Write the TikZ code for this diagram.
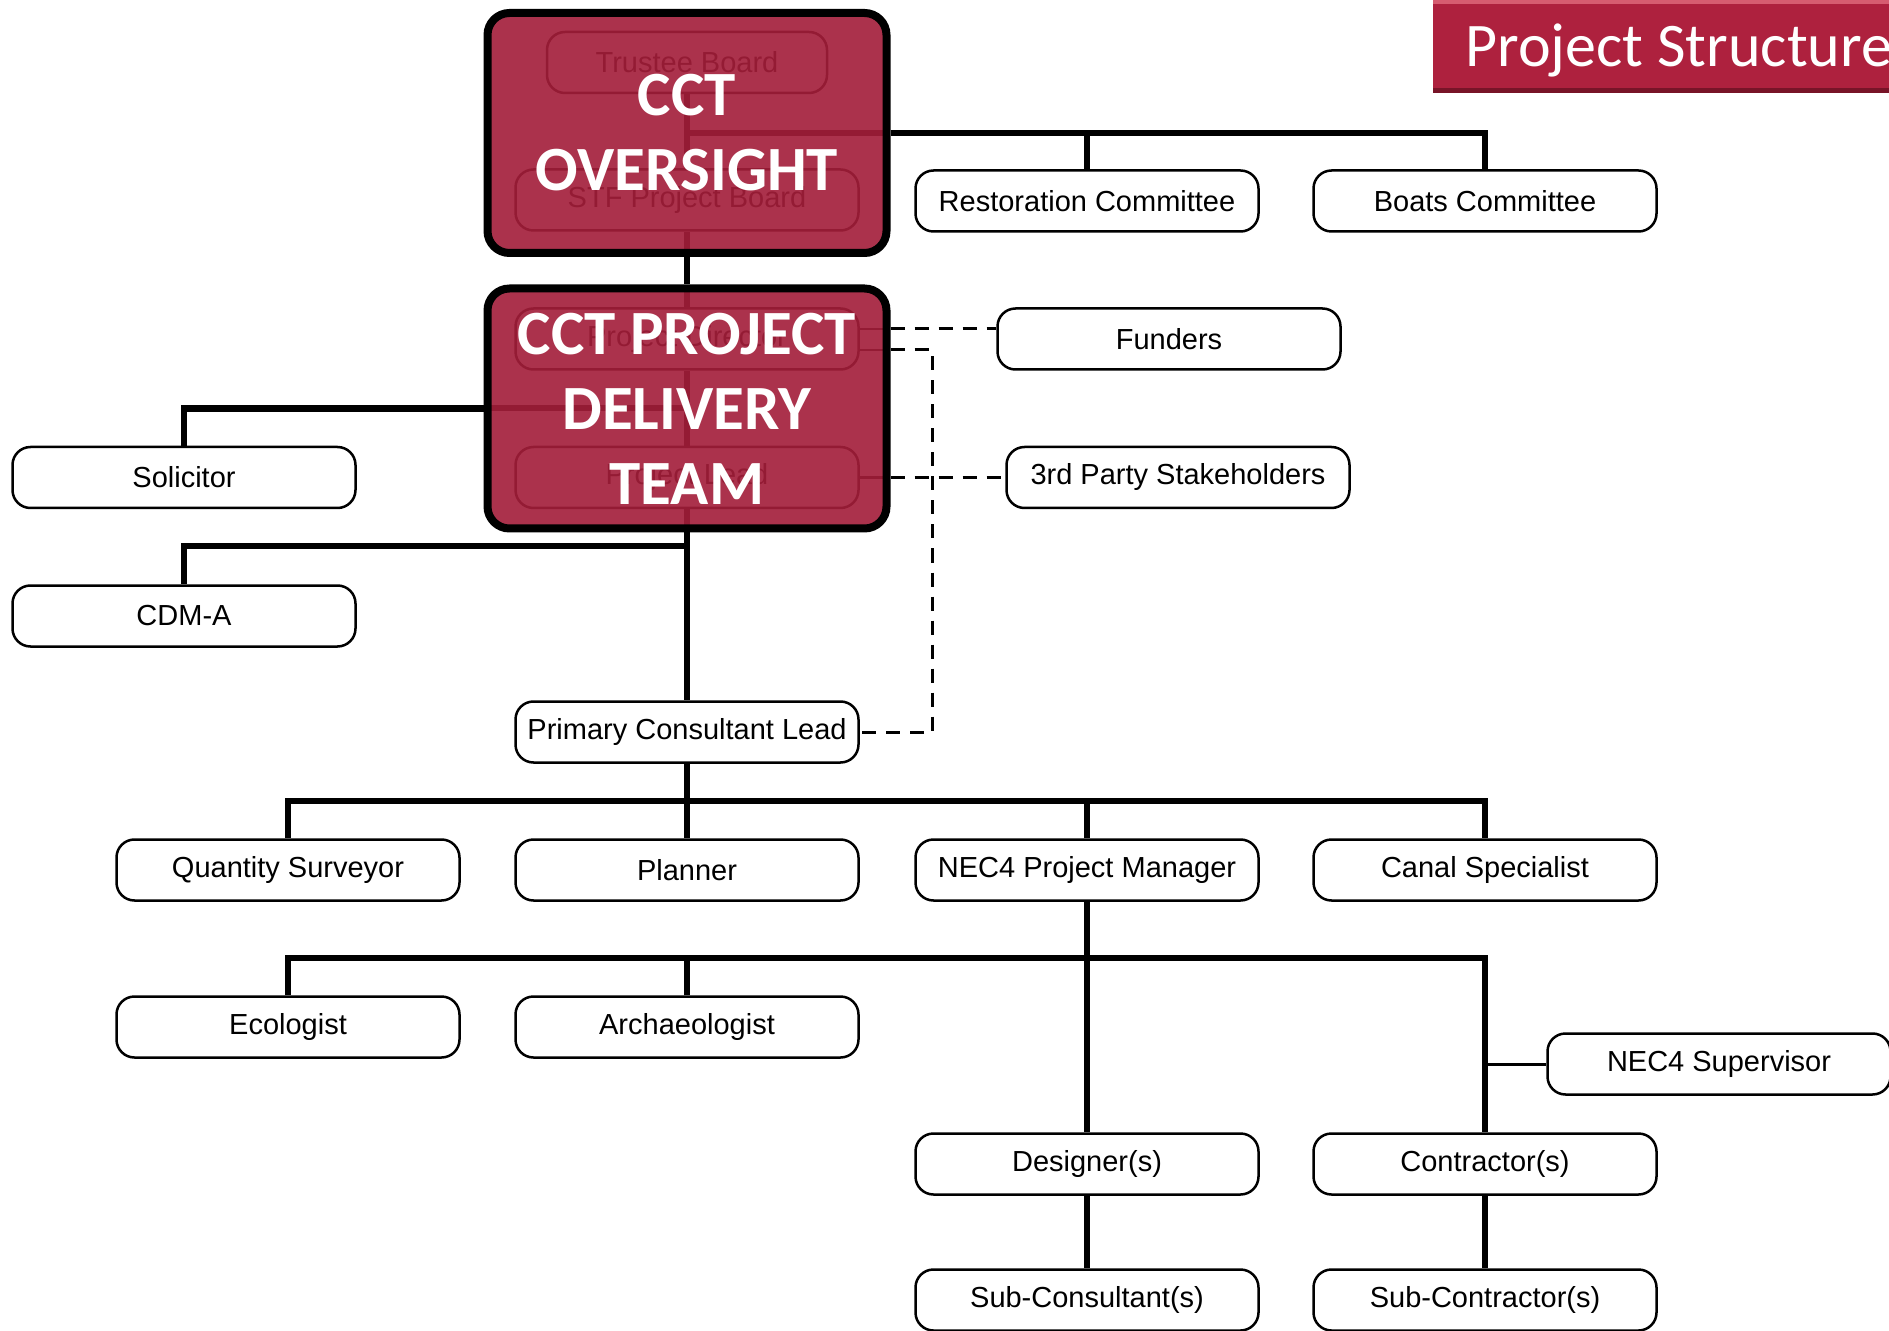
\documentclass[tikz,border=0pt]{standalone}
\usepackage{fontspec}
\setmainfont{Liberation Sans}
\newfontfamily\calibri{Carlito}
\usetikzlibrary{calc}
\definecolor{ovred}{RGB}{163,30,58}
\definecolor{titlered}{RGB}{174,33,62}
\definecolor{titlehi}{RGB}{214,92,112}
\definecolor{titlelo}{RGB}{120,20,40}
\begin{document}
\begin{tikzpicture}[x=0.5pt,y=-0.5pt,
  lbl/.style={draw, line width=1.25pt, rounded corners=9pt, fill=white, minimum width=171.5pt, minimum height=30.5pt, inner sep=0pt, font=\fontsize{14.5}{17}\selectfont},
  faded/.style={draw=black, line width=1.25pt, rounded corners=9pt, minimum width=171.5pt, minimum height=30.5pt, inner sep=0pt, font=\fontsize{14.5}{17}\selectfont, text=black},
  conn/.style={line width=3.25pt},
  dconn/.style={line width=1.5pt, dash pattern=on 7pt off 5pt},
  redbox/.style={draw=black, line width=4pt, rounded corners=11pt, fill=ovred, fill opacity=0.91, text opacity=1, text=white, align=center, minimum width=199.5pt, minimum height=120pt, inner sep=0pt, font=\calibri\bfseries\fontsize{31.5}{37.5}\selectfont}]
\useasboundingbox (0,0) rectangle (1889,1331);
\clip (0,0) rectangle (1889,1331);

% faded content beneath the overlays
\node[faded, minimum width=140pt] (tb) at (687,62.5) {Trustee Board};
\node[faded] (stf) at (687,200) {STF Project Board};
\node[faded] (pd) at (687,339) {Project Director};
\node[faded] (pl) at (687,477.5) {Project Lead};
\draw[conn] (tb.south) -- (stf.north);
\draw[conn] (stf.south) -- (stf.south |- 0,253);
\draw[conn] (687,133) -- (885,133);
\draw[conn] (pd.north |- 0,289) -- (pd.north);
\draw[conn] (pd.south) -- (pl.north);
\draw[conn] (pl.south) -- (pl.south |- 0,528);
\draw[conn] (489,408) -- (687,408);
\draw[line width=1.25pt] (pd.east |- 0,329) -- (885,329);
\draw[line width=1.25pt] (pd.east |- 0,350) -- (885,350);
\draw[line width=1.25pt] (pl.east) -- (885,477.5);

% overlay boxes
\node[redbox] (over) at (687,133) {CCT\\OVERSIGHT};
\node[redbox] (deliv) at (687,408.5) {CCT PROJECT\\DELIVERY\\TEAM};

% title
\fill[titlered] (1433,0) rectangle (1900,93);
\fill[titlehi] (1433,0) rectangle (1900,4);
\fill[titlelo] (1433,88) rectangle (1900,93);
\node[anchor=base west, text=white, inner sep=0pt, font=\calibri\fontsize{31}{36}\selectfont] (title) at (1465,67) {Project Structure};

% label nodes
\node[lbl] (restor) at (1087,201) {Restoration Committee};
\node[lbl] (boats) at (1485,201) {Boats Committee};
\node[lbl] (funders) at (1169,339) {Funders};
\node[lbl] (third) at (1178,477.5) {3rd Party Stakeholders};
\node[lbl] (solicitor) at (184,477.5) {Solicitor};
\node[lbl] (cdma) at (184,616) {CDM-A};
\node[lbl] (pcl) at (687,732) {Primary Consultant Lead};
\node[lbl] (qs) at (288,870) {Quantity Surveyor};
\node[lbl] (planner) at (687,870) {Planner};
\node[lbl] (necpm) at (1087,870) {NEC4 Project Manager};
\node[lbl] (canal) at (1485,870) {Canal Specialist};
\node[lbl] (eco) at (288,1027) {Ecologist};
\node[lbl] (arch) at (687,1027) {Archaeologist};
\node[lbl] (sup) at (1719,1064) {NEC4 Supervisor};
\node[lbl] (des) at (1087,1164) {Designer(s)};
\node[lbl] (con) at (1485,1164) {Contractor(s)};
\node[lbl] (subcons) at (1087,1300) {Sub-Consultant(s)};
\node[lbl] (subcont) at (1485,1300) {Sub-Contractor(s)};

% connectors
\draw[conn] (over.east) -| (boats.north);
\draw[conn] (restor.north) -- (restor.north |- over.east);
\draw[conn] (over.south) -- (deliv.north);
\draw[conn] (deliv.west) -| (solicitor.north);
\coordinate (cdmj) at (687,546);
\draw[conn] (deliv.south) -- (pcl.north);
\draw[conn] (cdmj) -| (cdma.north);
\draw[dconn] (deliv.east |- 0,329) -- (funders.west |- 0,329);
\coordinate (dj) at (932,350);
\draw[dconn] (deliv.east |- dj) -- (dj) |- (pcl.east);
\draw[dconn] (deliv.east |- third.west) -- (third.west);
\coordinate (r1) at (687,801);
\draw[conn] (qs.north) |- (r1) -| (canal.north);
\draw[conn] (pcl.south) -- (planner.north);
\draw[conn] (necpm.north) -- (necpm.north |- r1);
\coordinate (r2) at (1087,958);
\draw[conn] (necpm.south) -- (des.north);
\draw[conn] (eco.north) |- (r2) -| (con.north);
\draw[conn] (arch.north) -- (arch.north |- r2);
\draw[line width=1.5pt] (con.north |- sup.west) -- (sup.west);
\draw[conn] (des.south) -- (subcons.north);
\draw[conn] (con.south) -- (subcont.north);
\end{tikzpicture}
\end{document}
